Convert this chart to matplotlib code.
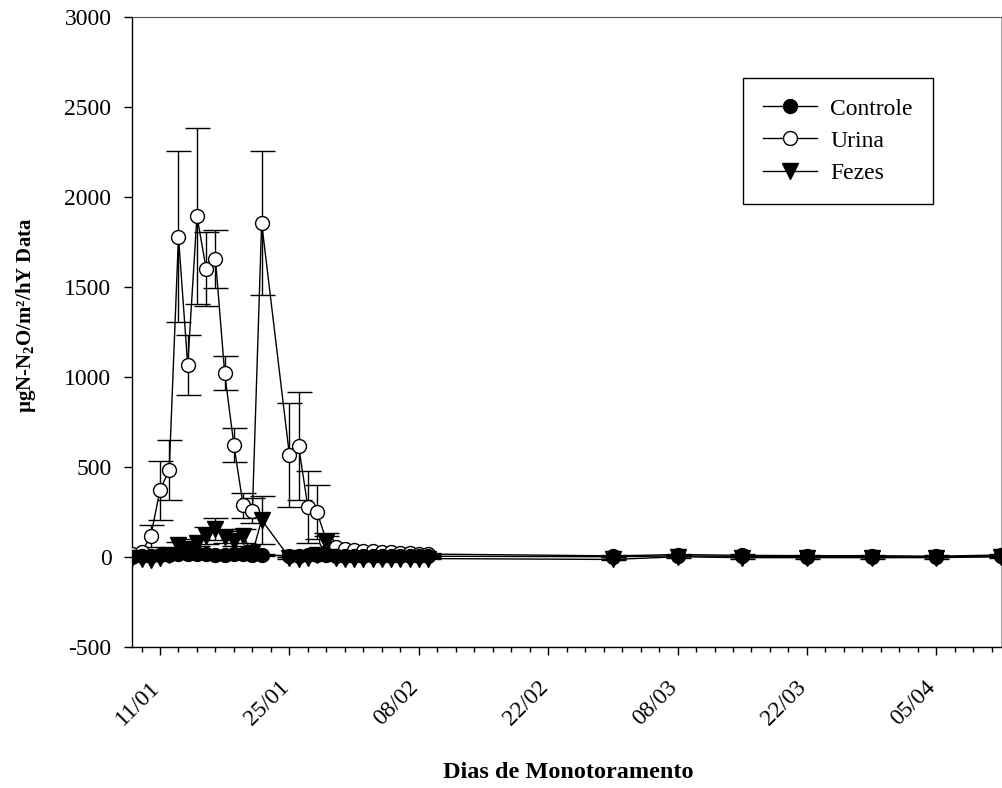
import datetime as dt
import matplotlib
matplotlib.use("Agg")
import matplotlib.pyplot as plt
import matplotlib.dates as mdates
import matplotlib.transforms as mtransforms
from matplotlib.lines import Line2D
from matplotlib.ticker import FixedLocator, FuncFormatter

plt.rcParams['font.family'] = ['Liberation Serif', 'DejaVu Serif']
plt.rcParams['mathtext.fontset'] = 'custom'
plt.rcParams['mathtext.rm'] = 'Liberation Serif'
plt.rcParams['mathtext.bf'] = 'Liberation Serif:bold'
plt.rcParams['mathtext.it'] = 'Liberation Serif:italic'
plt.rcParams['axes.unicode_minus'] = False

# ---- data ----
dates = [
    "2011-01-08", "2011-01-09", "2011-01-10", "2011-01-11", "2011-01-12",
    "2011-01-13", "2011-01-14", "2011-01-15", "2011-01-16", "2011-01-17",
    "2011-01-18", "2011-01-19", "2011-01-20", "2011-01-21", "2011-01-22",
    "2011-01-25", "2011-01-26", "2011-01-27", "2011-01-28", "2011-01-29",
    "2011-01-30", "2011-01-31", "2011-02-01", "2011-02-02", "2011-02-03",
    "2011-02-04", "2011-02-05", "2011-02-06", "2011-02-07", "2011-02-08",
    "2011-02-09",
    "2011-03-01", "2011-03-08", "2011-03-15", "2011-03-22", "2011-03-29",
    "2011-04-05", "2011-04-12",
]

controle = [0, 2, 5, 8, 12, 15, 15, 18, 15, 10, 12, 15, 15, 10, 10,
            5, 5, 8, 10, 8, 5, 3, 3, 3, 3, 3, 3, 3, 3, 3, 3,
            0, 5, 2, 0, 0, 0, 2]
controle_err = [3, 3, 4, 5, 5, 6, 6, 6, 6, 5, 5, 6, 6, 5, 5,
                4, 4, 4, 4, 4, 3, 3, 3, 3, 3, 3, 3, 3, 3, 3, 3,
                3, 3, 3, 3, 3, 3, 3]

urina = [15, 25, 115, 370, 483, 1780, 1065, 1895, 1598, 1655, 1020, 620, 285, 255, 1855,
         567, 615, 278, 247, 90, 57, 45, 38, 33, 30, 27, 25, 22, 20, 18, 15,
         5, 12, 8, 6, 6, 3, 10]
urina_err = [5, 8, 60, 165, 165, 475, 165, 490, 205, 160, 95, 95, 70, 70, 400,
             290, 300, 200, 150, 40, 20, 15, 10, 8, 8, 6, 6, 5, 5, 5, 5,
             5, 5, 5, 5, 5, 5, 5]

fezes = [-5, -15, -20, -5, 10, 65, 45, 78, 118, 155, 110, 90, 115, 20, 205,
         -5, -10, -5, 10, 80, -5, -10, -15, -10, -10, -10, -10, -10, -10, -10, -10,
         -15, 0, -5, -5, -5, -5, 0]
fezes_err = [5, 5, 5, 5, 8, 15, 12, 20, 45, 60, 35, 30, 40, 10, 135,
             5, 5, 5, 8, 35, 5, 5, 5, 5, 5, 5, 5, 5, 5, 5, 5,
             5, 5, 5, 5, 5, 5, 5]

major_labels_start = "2011-01-11"

x = mdates.date2num([dt.datetime.strptime(d, "%Y-%m-%d") for d in dates])

fig = plt.figure(figsize=(10.02, 7.88), dpi=100)
ax = fig.add_axes([0.132, 0.1793, 0.867, 0.7991])

ms = 10
common = dict(color='black', lw=1.0, elinewidth=1.0, ecolor='black', capsize=9, capthick=1.0)

ax.errorbar(x, urina, yerr=urina_err, marker='o', ms=ms, mfc='white', mec='black',
            mew=1.0, zorder=3, **common)
ax.errorbar(x, controle, yerr=controle_err, marker='o', ms=ms, mfc='black', mec='black',
            mew=1.0, zorder=4, **common)
ax.errorbar(x, fezes, yerr=fezes_err, marker='v', ms=ms + 1, mfc='black', mec='black',
            mew=1.0, zorder=5, **common)

# axes limits / ticks
x0 = mdates.date2num(dt.datetime(2011, 1, 8))
x1 = mdates.date2num(dt.datetime(2011, 4, 12))
ax.set_xlim(x0, x1)
ax.set_ylim(-500, 3000)
ax.set_yticks(range(-500, 3001, 500))

m0 = mdates.date2num(dt.datetime.strptime(major_labels_start, "%Y-%m-%d"))
majors = [m0 + 14 * k for k in range(7)]
minors = [m0 - 2 + 2 * k for k in range(47) if m0 - 2 + 2 * k <= x1]
ax.xaxis.set_major_locator(FixedLocator(majors))
ax.xaxis.set_minor_locator(FixedLocator(minors))
ax.xaxis.set_major_formatter(FuncFormatter(lambda v, p: mdates.num2date(v).strftime("%d/%m")))

ax.tick_params(axis='both', which='major', direction='out', length=6, width=1.0,
               labelsize=17, color='black')
ax.tick_params(axis='x', which='minor', direction='out', length=3.5, width=1.0)
ax.tick_params(axis='x', which='major', pad=10)
ax.tick_params(axis='y', which='major', pad=9)
offset = mtransforms.ScaledTranslation(-11 / 100, -8 / 100, fig.dpi_scale_trans)
for lab in ax.get_xticklabels():
    lab.set_rotation(45)
    lab.set_ha('right')
    lab.set_va('top')
    lab.set_rotation_mode('anchor')
    lab.set_transform(lab.get_transform() + offset)

for s in ['left', 'bottom']:
    ax.spines[s].set_linewidth(1.0)
ax.spines['top'].set_color('#555555')
ax.spines['top'].set_linewidth(0.8)
ax.spines['right'].set_color('#aaaaaa')
ax.spines['right'].set_linewidth(0.8)

ax.set_ylabel('µgN-N$_\\mathbf{2}$O/m²/hY Data', fontsize=15, fontweight='bold')
ax.yaxis.set_label_coords(-0.108, 0.527)
fig.text(0.567, 1 - 772 / 788, 'Dias de Monotoramento', fontsize=17.5, fontweight='bold',
         ha='center', va='center')

handles = [
    Line2D([], [], color='black', lw=1.0, marker='o', ms=ms, mfc='black', mec='black'),
    Line2D([], [], color='black', lw=1.0, marker='o', ms=ms, mfc='white', mec='black'),
    Line2D([], [], color='black', lw=1.0, marker='v', ms=ms + 1, mfc='black', mec='black'),
]
leg = fig.legend(handles, ['Controle', 'Urina', 'Fezes'], loc='upper left',
                 bbox_to_anchor=(743 / 1002, 1 - 78 / 788), fontsize=17,
                 frameon=True, fancybox=False, edgecolor='black', framealpha=1,
                 handlelength=2.3, handletextpad=0.55, labelspacing=0.45,
                 borderpad=0.85, borderaxespad=0)
leg.get_frame().set_linewidth(1.0)

fig.savefig('out.png', dpi=100)
